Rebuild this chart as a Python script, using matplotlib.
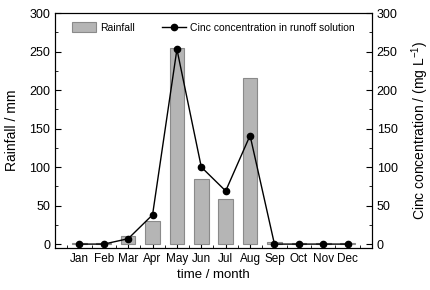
import matplotlib
matplotlib.use("Agg")
import matplotlib.pyplot as plt
from matplotlib.ticker import MultipleLocator

plt.rcParams["font.family"] = ["Liberation Sans", "DejaVu Sans"]
plt.rcParams["mathtext.fontset"] = "custom"
plt.rcParams["mathtext.rm"] = "Liberation Sans"
plt.rcParams["mathtext.it"] = "Liberation Sans:italic"

months = ["Jan", "Feb", "Mar", "Apr", "May", "Jun",
          "Jul", "Aug", "Sep", "Oct", "Nov", "Dec"]
rainfall = [2, 2, 10, 30, 254, 84, 59, 216, 3, 2, 2, 2]
cinc = [0, 0, 7, 38, 253, 100, 69, 141, 0, 0, 0, 0]

x = list(range(1, len(months) + 1))

fig = plt.figure(figsize=(4.3, 2.9), dpi=100)
ax = fig.add_axes([0.128, 0.145, 0.737, 0.81])
ax2 = ax.twinx()

bars = ax.bar(x, rainfall, width=0.6, color="#b5b5b5", edgecolor="#8a8a8a",
              linewidth=0.8, label="Rainfall", zorder=2)
line, = ax2.plot(x, cinc, color="black", linewidth=1.0, marker="o",
                 markersize=4.5, label="Cinc concentration in runoff solution")

for a in (ax, ax2):
    a.set_xlim(0, 13)
    a.set_ylim(-5, 300)
    a.yaxis.set_major_locator(MultipleLocator(50))
    a.yaxis.set_minor_locator(MultipleLocator(25))
    a.tick_params(which="both", direction="in", labelsize=9)
    a.tick_params(which="major", length=4)
    a.tick_params(which="minor", length=2)

ax.set_xticks(x)
ax.set_xticklabels(months, fontsize=8.5)
ax.xaxis.set_minor_locator(MultipleLocator(0.5))
ax.tick_params(axis="x", which="both", top=False)

ax.set_xlabel("time / month", fontsize=9.5, labelpad=3)
ax.set_ylabel("Rainfall / mm", fontsize=10, labelpad=7)
ax2.set_ylabel("Cinc concentration / (mg L$^{-1}$)", fontsize=10, labelpad=8)

ax.legend([bars, line], ["Rainfall", "Cinc concentration in runoff solution"],
          loc="upper center", ncol=2, frameon=False, fontsize=7.5,
          bbox_to_anchor=(0.5, 1.0), handlelength=2.3, handleheight=1.1,
          columnspacing=2.6, handletextpad=0.4)

fig.savefig("out.png", dpi=100)
